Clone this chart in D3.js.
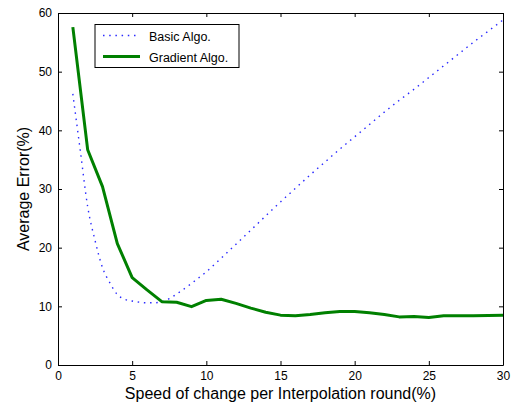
<!DOCTYPE html>
<html>
<head>
<meta charset="utf-8">
<script src="https://cdn.jsdelivr.net/npm/d3@7"></script>
<style>
  body { margin: 0; background: #fff; }
  svg { font-family: "Liberation Sans", Arial, sans-serif; }
  .axis path, .axis line { stroke: #000; }
  .axis text { fill: #000; font-size: 12px; }
</style>
</head>
<body>
<svg width="517" height="408"></svg>
<script>
// basic algorithm (dotted blue)
var basicX = [1, 1.5, 2, 2.5, 3, 3.5, 4, 4.5, 5, 5.5, 6, 6.5, 7, 7.5, 8, 9, 10, 11, 12, 13, 14, 15,
  16, 17, 18, 19, 20, 21, 22, 23, 24, 25, 26, 27, 28, 29, 30];
var basicY = [46.2, 36.6, 27.0, 21.2, 16.6, 14.0, 12.0, 11.2, 10.9, 10.7, 10.6, 10.6, 10.8, 11.3, 12.1,
  13.9, 15.9, 18.2, 20.6, 23.0, 25.4, 27.8, 30.1, 32.4, 34.6, 36.8, 38.9, 41.0, 43.1, 45.1,
  47.0, 49.0, 51.0, 53.0, 55.0, 56.9, 58.8];

// gradient algorithm (solid green)
var gradX = d3.range(1, 31);
var gradY = [57.6, 36.7, 30.4, 20.7, 14.9, 12.8, 10.8, 10.7, 9.95, 11.0, 11.2, 10.5, 9.7, 9.0, 8.5,
  8.4, 8.6, 8.9, 9.1, 9.1, 8.9, 8.6, 8.2, 8.25, 8.1, 8.4, 8.4, 8.4, 8.45, 8.5];

var xTicks = [0, 5, 10, 15, 20, 25, 30];
var yTicks = [0, 10, 20, 30, 40, 50, 60];
var legendLabels = ["Basic Algo.", "Gradient Algo."];

var svg = d3.select("svg");
var margin = { left: 58, right: 14, top: 13, bottom: 43 };
var width = 517 - margin.left - margin.right,
  height = 408 - margin.top - margin.bottom;

var g = svg.append("g").attr("transform", "translate(" + margin.left + "," + margin.top + ")");

var x = d3.scaleLinear().domain([0, 30]).range([0, width]);
var y = d3.scaleLinear().domain([0, 60]).range([height, 0]);

// axes with inward ticks on all four sides
g.append("g").attr("class", "axis")
  .attr("transform", "translate(0," + height + ")")
  .call(d3.axisBottom(x).tickValues(xTicks).tickSize(-4).tickSizeOuter(0).tickPadding(6));
g.append("g").attr("class", "axis")
  .call(d3.axisLeft(y).tickValues(yTicks).tickSize(-4).tickSizeOuter(0).tickPadding(6));
g.append("g").attr("class", "axis")
  .call(d3.axisTop(x).tickValues(xTicks).tickSize(-4).tickSizeOuter(0).tickFormat(""));
g.append("g").attr("class", "axis")
  .attr("transform", "translate(" + width + ",0)")
  .call(d3.axisRight(y).tickValues(yTicks).tickSize(-4).tickSizeOuter(0).tickFormat(""));

var basic = basicX.map(function(d, i) { return [d, basicY[i]]; });
var grad = gradX.map(function(d, i) { return [d, gradY[i]]; });

var smooth = d3.line()
  .x(function(d) { return x(d[0]); })
  .y(function(d) { return y(d[1]); })
  .curve(d3.curveMonotoneX);
var straight = d3.line()
  .x(function(d) { return x(d[0]); })
  .y(function(d) { return y(d[1]); });

g.append("path").datum(basic)
  .attr("d", smooth)
  .attr("fill", "none")
  .attr("stroke", "#2a2aff")
  .attr("stroke-width", 1.4)
  .attr("stroke-dasharray", "1.5,4.7");

g.append("path").datum(grad)
  .attr("d", straight)
  .attr("fill", "none")
  .attr("stroke", "#008000")
  .attr("stroke-width", 3)
  .attr("stroke-linejoin", "round");

// legend
var legend = svg.append("g").attr("transform", "translate(95,24.5)");
legend.append("rect")
  .attr("width", 144).attr("height", 43)
  .attr("fill", "#fff").attr("stroke", "#000");
legend.append("line")
  .attr("x1", 8).attr("x2", 45).attr("y1", 11).attr("y2", 11)
  .attr("stroke", "#2a2aff").attr("stroke-width", 1.4).attr("stroke-dasharray", "1.5,4.7");
legend.append("line")
  .attr("x1", 8).attr("x2", 45).attr("y1", 32).attr("y2", 32)
  .attr("stroke", "#008000").attr("stroke-width", 3);
legend.selectAll("text").data(legendLabels).enter().append("text")
  .attr("x", 54)
  .attr("y", function(d, i) { return 16 + i * 21; })
  .attr("font-size", "12.5px")
  .text(function(d) { return d; });

// axis titles
svg.append("text")
  .attr("x", margin.left + width / 2)
  .attr("y", 399)
  .attr("text-anchor", "middle")
  .attr("font-size", "16px")
  .text("Speed of change per Interpolation round(%)");
svg.append("text")
  .attr("transform", "translate(29," + (margin.top + height / 2) + ") rotate(-90)")
  .attr("text-anchor", "middle")
  .attr("font-size", "16px")
  .text("Average Error(%)");
</script>
</body>
</html>
